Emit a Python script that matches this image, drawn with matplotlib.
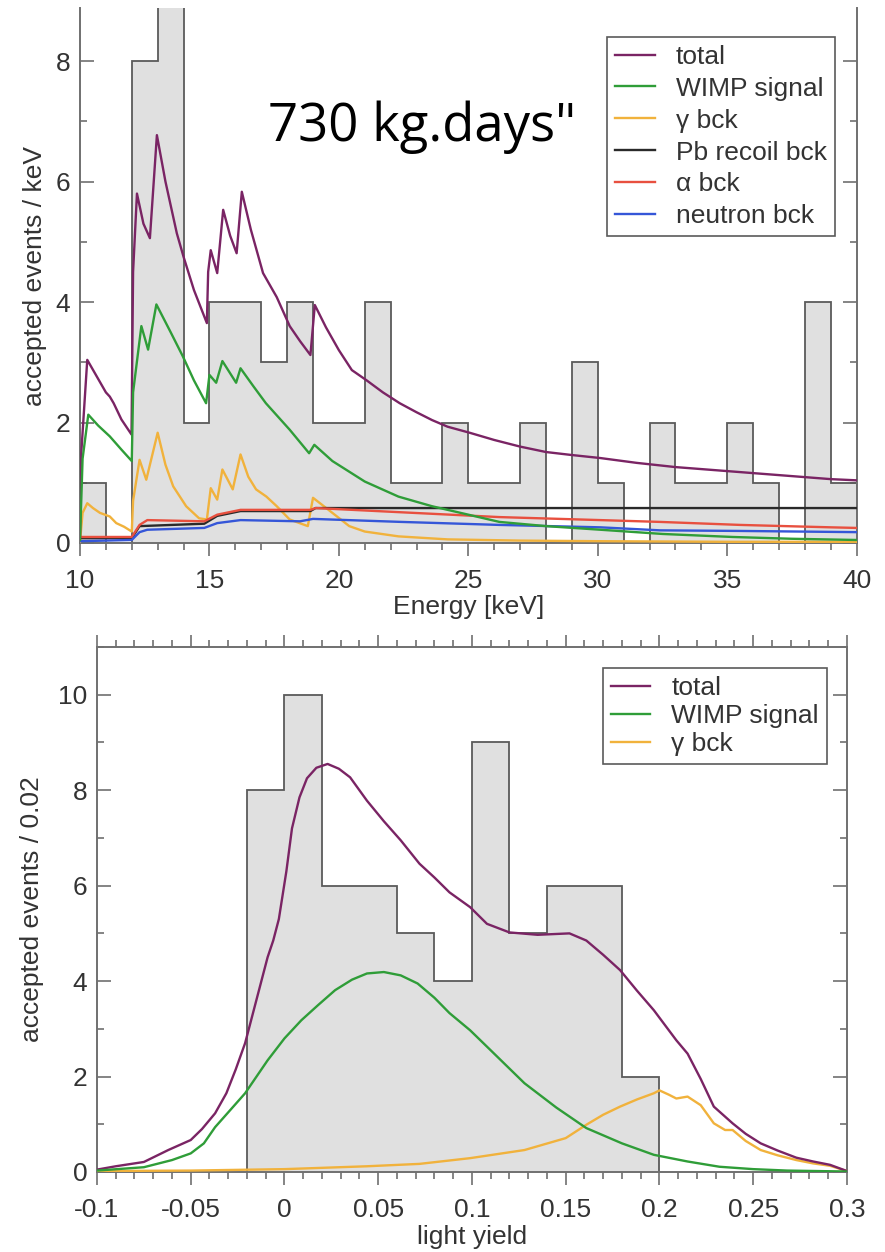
import numpy as np
import matplotlib
matplotlib.use('Agg')
import matplotlib.pyplot as plt
from matplotlib.ticker import MultipleLocator

### Data: energy spectrum (top)
e_edges = np.arange(10, 41, 1)
e_counts = [1, 0, 8, 9, 2, 4, 4, 3, 4, 2, 2, 4, 1, 1, 2, 1, 1, 2, 0, 3,
            1, 0, 2, 1, 1, 2, 1, 0, 4, 1]

e_total = [10.0, 10.05, 10.28, 10.6, 11.0, 11.15, 11.3, 11.6, 11.99, 12.05,
           12.2, 12.45, 12.7, 12.97, 13.3, 13.74, 14.0, 14.4, 14.9, 14.95,
           15.05, 15.3, 15.53, 15.8, 16.05, 16.25, 16.6, 17.07, 17.6, 18.1,
           18.5, 18.9, 19.07, 19.5, 20.0, 20.5, 21.07, 21.7, 22.35, 23.0,
           23.6, 24.2, 25.05, 26.0, 27.0, 28.0, 29.0, 30.1, 31.5, 33.0,
           34.5, 36.0, 37.5, 39.0, 40.0]
total_e = [0.1, 1.5, 3.04, 2.8, 2.5, 2.43, 2.32, 2.05, 1.80, 4.5,
           5.8, 5.3, 5.06, 6.77, 6.0, 5.14, 4.75, 4.2, 3.65, 4.5,
           4.86, 4.48, 5.53, 5.1, 4.81, 5.83, 5.2, 4.48, 4.08, 3.6,
           3.35, 3.12, 3.95, 3.58, 3.2, 2.87, 2.7, 2.5, 2.32, 2.17,
           2.04, 1.93, 1.83, 1.71, 1.6, 1.51, 1.46, 1.41, 1.33, 1.26,
           1.21, 1.16, 1.11, 1.06, 1.04]

e_wimp = [10.0, 10.1, 10.32, 10.7, 11.15, 11.6, 12.0, 12.05, 12.37, 12.63,
          12.95, 13.5, 13.97, 14.4, 14.87, 15.0, 15.26, 15.5, 16.03, 16.2,
          16.7, 17.18, 18.1, 18.85, 19.05, 19.75, 21.0, 22.3, 23.6, 24.5,
          26.2, 28.0, 30.1, 32.5, 35.2, 37.5, 40.0]
wimp_e = [0.05, 1.4, 2.13, 1.95, 1.77, 1.55, 1.36, 2.5, 3.6, 3.21,
          3.96, 3.5, 3.1, 2.7, 2.32, 2.79, 2.66, 3.02, 2.66, 2.9,
          2.6, 2.32, 1.88, 1.49, 1.63, 1.36, 1.02, 0.77, 0.61, 0.52,
          0.35, 0.28, 0.22, 0.15, 0.1, 0.07, 0.05]

e_gamma = [10.0, 10.1, 10.28, 10.5, 10.77, 11.15, 11.4, 11.7, 12.0, 12.05,
           12.3, 12.56, 13.0, 13.3, 13.6, 14.1, 14.6, 14.9, 15.05, 15.3,
           15.5, 15.9, 16.2, 16.5, 16.8, 17.2, 17.6, 18.1, 18.8, 19.0,
           19.6, 20.4, 21.0, 22.3, 24.2, 27.0, 30.0, 35.0, 40.0]
gamma_e = [0.02, 0.5, 0.66, 0.58, 0.5, 0.44, 0.33, 0.27, 0.19, 0.7,
           1.38, 1.05, 1.83, 1.3, 0.94, 0.61, 0.41, 0.39, 0.91, 0.72,
           1.22, 0.89, 1.47, 1.1, 0.89, 0.77, 0.61, 0.39, 0.28, 0.75,
           0.55, 0.28, 0.19, 0.11, 0.06, 0.04, 0.03, 0.02, 0.02]

e_pb = [10.0, 12.0, 12.3, 14.8, 15.3, 16.2, 18.9, 19.1, 40.0]
pb_e = [0.08, 0.08, 0.28, 0.32, 0.45, 0.53, 0.53, 0.58, 0.58]

e_alpha = [10.0, 12.0, 12.3, 12.6, 14.8, 15.3, 16.2, 18.9, 19.1, 22.4,
           26.2, 30.1, 32.4, 35.5, 39.0, 40.0]
alpha_e = [0.1, 0.1, 0.3, 0.38, 0.36, 0.47, 0.55, 0.55, 0.58, 0.51,
           0.43, 0.38, 0.35, 0.3, 0.26, 0.25]

e_neut = [10.0, 12.0, 12.3, 12.6, 14.8, 15.3, 16.2, 18.5, 19.0, 22.4,
          26.2, 30.1, 32.4, 35.5, 40.0]
neut_e = [0.03, 0.05, 0.18, 0.22, 0.25, 0.33, 0.38, 0.36, 0.4, 0.35,
          0.3, 0.26, 0.21, 0.2, 0.18]

### Data: light yield (bottom)
ly_edges = np.round(np.arange(-0.02, 0.201, 0.02), 3)
ly_counts = [8, 10, 6, 6, 5, 4, 9, 5, 6, 6, 2]

ly_total = [-0.1, -0.09, -0.075, -0.062, -0.05, -0.044, -0.037, -0.031, -0.026, -0.021,
            -0.015, -0.009, -0.006, -0.003, 0.001, 0.004, 0.008, 0.012, 0.017, 0.023,
            0.029, 0.035, 0.044, 0.053, 0.062, 0.072, 0.08, 0.088, 0.099, 0.108,
            0.12, 0.135, 0.152, 0.161, 0.17, 0.179, 0.188, 0.197, 0.209, 0.215,
            0.222, 0.229, 0.239, 0.246, 0.254, 0.263, 0.273, 0.282, 0.291, 0.3]
total_ly = [0.05, 0.12, 0.21, 0.46, 0.67, 0.9, 1.23, 1.65, 2.15, 2.7,
            3.6, 4.5, 4.85, 5.3, 6.3, 7.2, 7.85, 8.25, 8.47, 8.55,
            8.45, 8.27, 7.78, 7.35, 6.95, 6.46, 6.17, 5.86, 5.55, 5.2,
            5.02, 4.97, 5.0, 4.85, 4.55, 4.23, 3.8, 3.39, 2.76, 2.48,
            1.95, 1.37, 1.02, 0.8, 0.6, 0.45, 0.3, 0.22, 0.15, 0.02]

ly_wimp = [-0.1, -0.075, -0.06, -0.05, -0.043, -0.037, -0.03, -0.021, -0.009, 0.0,
           0.009, 0.018, 0.027, 0.036, 0.044, 0.053, 0.062, 0.071, 0.08, 0.088,
           0.099, 0.11, 0.128, 0.145, 0.161, 0.18, 0.197, 0.215, 0.232, 0.25,
           0.268, 0.3]
wimp_ly = [0.03, 0.1, 0.25, 0.39, 0.6, 0.94, 1.25, 1.65, 2.34, 2.8,
           3.18, 3.5, 3.81, 4.03, 4.16, 4.19, 4.12, 3.95, 3.65, 3.33,
           2.97, 2.55, 1.86, 1.35, 0.92, 0.6, 0.36, 0.22, 0.11, 0.06,
           0.03, 0.01]

ly_gamma = [-0.1, -0.05, 0.0, 0.044, 0.072, 0.099, 0.128, 0.15, 0.161, 0.17,
            0.179, 0.188, 0.197, 0.2, 0.205, 0.209, 0.215, 0.222, 0.229, 0.235,
            0.239, 0.246, 0.254, 0.263, 0.273, 0.282, 0.291, 0.3]
gamma_ly = [0.02, 0.03, 0.06, 0.12, 0.17, 0.29, 0.46, 0.71, 0.99, 1.2,
            1.37, 1.52, 1.65, 1.71, 1.62, 1.54, 1.58, 1.4, 1.02, 0.88,
            0.88, 0.65, 0.46, 0.35, 0.25, 0.18, 0.13, 0.02]

e_ticks = [10, 15, 20, 25, 30, 35, 40]
ly_ticks = [-0.1, -0.05, 0, 0.05, 0.1, 0.15, 0.2, 0.25, 0.3]
ly_ticklabels = ['-0.1', '-0.05', '0', '0.05', '0.1', '0.15', '0.2', '0.25', '0.3']

### Style
plt.rcParams['font.family'] = ['Liberation Sans', 'DejaVu Sans']
plt.rcParams['font.size'] = 19

c_total = '#7a2464'
c_wimp = '#2f9d38'
c_gamma = '#f1b23c'
c_pb = '#2a2a2a'
c_alpha = '#e8503f'
c_neut = '#3556d8'
c_fill = '#e0e0e0'
c_edge = '#5a5a5a'
c_axis = '#707070'
c_text = '#333333'

fig = plt.figure(figsize=(8.85, 12.52), dpi=100)
ax1 = fig.add_axes([0.0904, 0.5663, 0.8776, 0.4273])
ax2 = fig.add_axes([0.1096, 0.0639, 0.8474, 0.4193])

def style_axes(ax, top_ticks):
    for loc, spine in ax.spines.items():
        spine.set_color(c_axis)
        spine.set_linewidth(1.4)
    ax.tick_params(axis='y', which='both', direction='in', left=True, right=True,
                   color=c_axis, width=1.2)
    ax.tick_params(axis='y', which='major', length=10, pad=7)
    ax.tick_params(axis='y', which='minor', length=5)
    ax.tick_params(axis='x', which='both', direction='out', bottom=True, top=top_ticks,
                   color=c_axis, width=1.2)
    ax.tick_params(axis='x', which='major', length=9, pad=10)
    ax.tick_params(axis='x', which='minor', length=5)
    ax.tick_params(labelcolor=c_text)

### Top panel
ax1.stairs(e_counts, e_edges, fill=True, color=c_fill, zorder=1)
ax1.stairs(e_counts, e_edges, baseline=0, color=c_edge, linewidth=1.3, zorder=2)
ax1.plot(e_total, total_e, color=c_total, lw=1.7, label='total', zorder=5)
ax1.plot(e_wimp, wimp_e, color=c_wimp, lw=1.7, label='WIMP signal', zorder=5)
ax1.plot(e_gamma, gamma_e, color=c_gamma, lw=1.7, label=r'γ bck', zorder=4)
ax1.plot(e_pb, pb_e, color=c_pb, lw=1.7, label='Pb recoil bck', zorder=4)
ax1.plot(e_alpha, alpha_e, color=c_alpha, lw=1.7, label=r'α bck', zorder=4)
ax1.plot(e_neut, neut_e, color=c_neut, lw=1.7, label='neutron bck', zorder=4)

ax1.set_xlim(10, 40)
ax1.set_ylim(0, 8.88)
ax1.set_xticks(e_ticks)
ax1.set_yticks([0, 2, 4, 6, 8])
ax1.xaxis.set_minor_locator(MultipleLocator(1))
ax1.yaxis.set_minor_locator(MultipleLocator(1))
ax1.spines['top'].set_visible(False)
style_axes(ax1, False)
ax1.set_xlabel('Energy [keV]', color=c_text, labelpad=1)
ax1.set_ylabel('accepted events / keV', color=c_text, labelpad=6)

leg1 = ax1.legend(loc='upper right', bbox_to_anchor=(0.972, 0.946), fancybox=False,
                  framealpha=1, edgecolor=c_edge, handlelength=1.5, handletextpad=0.8,
                  labelspacing=0.3, borderpad=0.3, borderaxespad=0, fontsize=19,
                  labelcolor=c_text)
leg1.get_frame().set_linewidth(1.2)
leg1.set_zorder(10)

fig.text(0.477, 0.898, '730 kg.days"', fontsize=38, family='Open Sans',
         ha='center', va='center', color='black')

### Bottom panel
ax2.stairs(ly_counts, ly_edges, fill=True, color=c_fill, zorder=1)
ax2.stairs(ly_counts, ly_edges, baseline=0, color=c_edge, linewidth=1.3, zorder=2)
ax2.plot(ly_total, total_ly, color=c_total, lw=1.7, label='total', zorder=5)
ax2.plot(ly_wimp, wimp_ly, color=c_wimp, lw=1.7, label='WIMP signal', zorder=5)
ax2.plot(ly_gamma, gamma_ly, color=c_gamma, lw=1.7, label=r'γ bck', zorder=4)

ax2.set_xlim(-0.1, 0.3)
ax2.set_ylim(0, 11)
ax2.set_xticks(ly_ticks, ly_ticklabels)
ax2.set_yticks([0, 2, 4, 6, 8, 10])
ax2.xaxis.set_minor_locator(MultipleLocator(0.01))
ax2.yaxis.set_minor_locator(MultipleLocator(1))
style_axes(ax2, True)
ax2.set_xlabel('light yield', color=c_text, labelpad=2)
ax2.set_ylabel('accepted events / 0.02', color=c_text, labelpad=10)

leg2 = ax2.legend(loc='upper right', bbox_to_anchor=(0.973, 0.96), fancybox=False,
                  framealpha=1, edgecolor=c_edge, handlelength=1.5, handletextpad=0.8,
                  labelspacing=0.15, borderpad=0.3, borderaxespad=0, fontsize=19,
                  labelcolor=c_text)
leg2.get_frame().set_linewidth(1.2)
leg2.set_zorder(10)

plt.savefig('out.png', dpi=100)
